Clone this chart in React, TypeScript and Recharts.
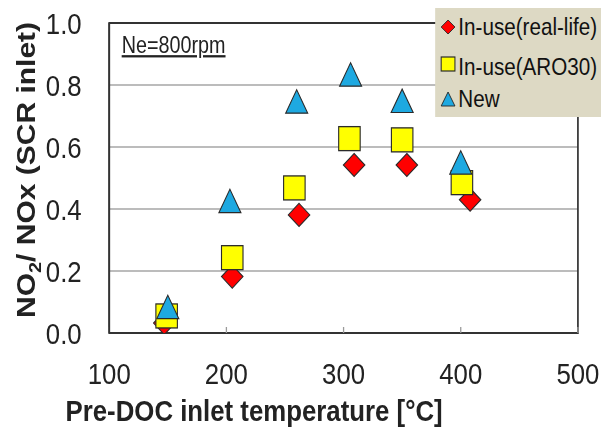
import React from 'react';
import { ScatterChart, Scatter, XAxis, YAxis, CartesianGrid, ReferenceArea, Legend } from 'recharts';

// ---- data ----
const seriesNames = ['In-use(real-life)', 'In-use(ARO30)', 'New'];

const realLifeTemp = [147, 205, 262, 309, 354, 408];
const realLifeRatio = [0.032, 0.182, 0.381, 0.542, 0.542, 0.43];

const aro30Temp = [149, 205, 258, 305, 350, 401];
const aro30Ratio = [0.055, 0.243, 0.468, 0.627, 0.623, 0.485];

const newTemp = [150, 203, 260, 306, 350, 400];
const newRatio = [0.084, 0.426, 0.747, 0.834, 0.749, 0.55];

const xTicks = [100, 200, 300, 400, 500];
const yTicks = [0, 0.2, 0.4, 0.6, 0.8, 1.0];

const annotation = 'Ne=800rpm';
const xTitle = 'Pre-DOC inlet temperature [°C]';

const toPoints = (xs: number[], ys: number[]) => xs.map((x, i) => ({ x, y: ys[i] }));
const realLifeData = toPoints(realLifeTemp, realLifeRatio);
const aro30Data = toPoints(aro30Temp, aro30Ratio);
const newData = toPoints(newTemp, newRatio);

// ---- styling ----
const SCALE = 0.86;
const W = 699;
const H = 431;
const FONT = '"Liberation Sans", Arial, sans-serif';
const RED = '#FF0000';
const YELLOW = '#FFFF00';
const BLUE = '#1EA9E1';
const EDGE = '#2A2A2A';

const Diamond = (props: any) => {
  const { cx, cy } = props;
  const w = 12.5, h = 11.5;
  return (
    <path
      d={`M${cx},${cy - h} L${cx + w},${cy} L${cx},${cy + h} L${cx - w},${cy} Z`}
      fill={RED}
      stroke={EDGE}
      strokeWidth={1.2}
    />
  );
};

const Square = (props: any) => {
  const { cx, cy } = props;
  const w = 12.5, h = 12;
  return <rect x={cx - w} y={cy - h} width={2 * w} height={2 * h} fill={YELLOW} stroke={EDGE} strokeWidth={1.3} />;
};

const Triangle = (props: any) => {
  const { cx, cy } = props;
  const w = 12.8, h = 11.7;
  return (
    <path
      d={`M${cx},${cy - h} L${cx + w},${cy + h} L${cx - w},${cy + h} Z`}
      fill={BLUE}
      stroke={EDGE}
      strokeWidth={1.2}
    />
  );
};

const legendMarker = (i: number, cx: number, cy: number) => {
  if (i === 0)
    return <path d={`M${cx},${cy - 7} L${cx + 8},${cy} L${cx},${cy + 7} L${cx - 8},${cy} Z`} fill={RED} stroke={EDGE} strokeWidth={1} />;
  if (i === 1) return <rect x={cx - 8} y={cy - 7} width={16} height={14} fill={YELLOW} stroke={EDGE} strokeWidth={1.2} />;
  return <path d={`M${cx},${cy - 7} L${cx + 8},${cy + 7} L${cx - 8},${cy + 7} Z`} fill={BLUE} stroke={EDGE} strokeWidth={1} />;
};

const legendMarkerY = [19, 56, 91];
const legendTextY = [27, 67, 99];

const renderLegend = () => {
  return (
    <svg width={193} height={109} style={{ display: 'block' }}>
      <rect x={0} y={0} width={193} height={109} fill="#DDD9C4" />
      {seriesNames.map((name, i) => (
        <g key={name}>
          {legendMarker(i, 15, legendMarkerY[i])}
          <text x={27} y={legendTextY[i]} fontSize={24} fontFamily={FONT} fill="#111">
            {name}
          </text>
        </g>
      ))}
    </svg>
  );
};

const renderXTitle = (props: any) => {
  const vb = props.viewBox || { x: 127, y: 333, width: 545, height: 98 };
  return (
    <text
      x={vb.x + vb.width / 2 - 104}
      y={vb.y + vb.height - 10}
      textAnchor="middle"
      fontSize={30}
      fontWeight="bold"
      fontFamily={FONT}
      fill="#222"
    >
      {xTitle}
    </text>
  );
};

const renderYTitle = () => {
  const cx = 41, cy = 170;
  return (
    <text
      x={cx}
      y={cy}
      transform={`rotate(-90 ${cx} ${cy})`}
      textAnchor="middle"
      fontSize={30}
      fontWeight="bold"
      fontFamily={FONT}
      fill="#222"
    >
      NO
      <tspan fontSize={20} dy={7}>2</tspan>
      <tspan dy={-7}>/ NOx (SCR inlet)</tspan>
    </text>
  );
};

const renderAnnotation = (props: any) => {
  const vb = props.viewBox || { x: 127, y: 23 };
  return (
    <text
      x={vb.x + 14.5}
      y={vb.y + 30}
      fontSize={23}
      fontFamily={FONT}
      fill="#222"
      textDecoration="underline"
      style={{ textDecoration: 'underline' }}
    >
      {annotation}
    </text>
  );
};

export default function App() {
  return (
    <div style={{ position: 'absolute', left: 0, top: 0, width: 601, height: 431, overflow: 'hidden', background: '#fff' }}>
      <div style={{ width: W, height: H, transform: `scaleX(${SCALE})`, transformOrigin: '0 0' }}>
        <ScatterChart width={W} height={H} margin={{ top: 23, right: 27, bottom: 0, left: 0 }}>
          <CartesianGrid horizontal vertical={false} stroke="#A6A6A6" strokeWidth={1.5} />
          <XAxis
            type="number"
            dataKey="x"
            domain={[100, 500]}
            ticks={xTicks}
            allowDataOverflow
            height={98}
            tickSize={-6}
            tickMargin={36}
            tickLine={{ stroke: '#9A9A9A', strokeWidth: 1.5 }}
            axisLine={{ stroke: '#333', strokeWidth: 2 }}
            tick={{ fontSize: 30, fontFamily: FONT, fill: '#222' }}
            label={{ content: renderXTitle }}
          />
          <YAxis
            type="number"
            dataKey="y"
            domain={[0, 1]}
            ticks={yTicks}
            allowDataOverflow
            width={127}
            tickLine={false}
            tickMargin={26}
            axisLine={{ stroke: '#333', strokeWidth: 2 }}
            tickFormatter={(v: number) => v.toFixed(1)}
            tick={{ fontSize: 30, fontFamily: FONT, fill: '#222' }}
            label={{ content: renderYTitle }}
          />
          <ReferenceArea
            x1={100}
            x2={500}
            y1={0}
            y2={1}
            fill="none"
            fillOpacity={0}
            stroke="#333"
            strokeWidth={2}
            label={{ content: renderAnnotation }}
          />
          <Scatter name={seriesNames[0]} data={realLifeData} fill={RED} shape={Diamond} isAnimationActive={false} />
          <Scatter name={seriesNames[1]} data={aro30Data} fill={YELLOW} shape={Square} isAnimationActive={false} />
          <Scatter name={seriesNames[2]} data={newData} fill={BLUE} shape={Triangle} isAnimationActive={false} />
          <Legend
            layout="horizontal"
            verticalAlign="middle"
            align="center"
            content={renderLegend}
            wrapperStyle={{ position: 'absolute', top: 8, left: 506, width: 193, height: 109, margin: 0, padding: 0 }}
          />
        </ScatterChart>
      </div>
    </div>
  );
}
